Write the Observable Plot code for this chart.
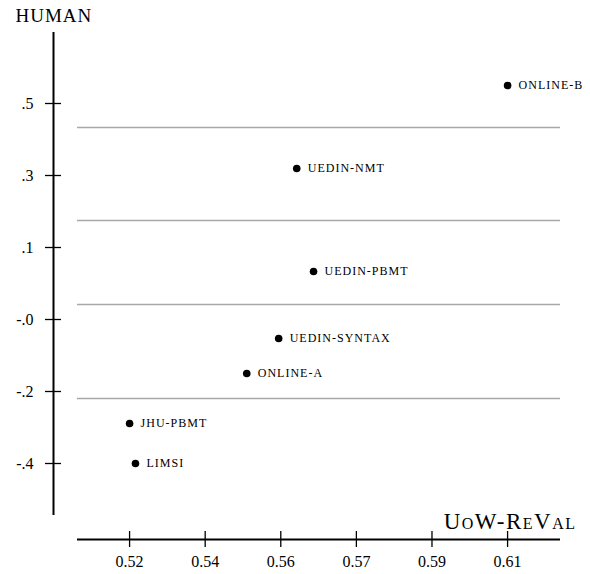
<!DOCTYPE html>
<html>
<head>
<meta charset="utf-8">
<script src="https://cdn.jsdelivr.net/npm/d3@7"></script>
<script src="https://cdn.jsdelivr.net/npm/@observablehq/plot@0.6"></script>
<style>
  html, body { margin: 0; padding: 0; background: white; }
  #chart svg { display: block; }
  #chart svg, #chart svg text, #chart svg g { font-family: "Liberation Serif", "Times New Roman", serif !important; }
</style>
</head>
<body>
<div id="chart"></div>
<script>
// Data
const systems = ["ONLINE-B", "UEDIN-NMT", "UEDIN-PBMT", "UEDIN-SYNTAX", "ONLINE-A", "JHU-PBMT", "LIMSI"];
const reval   = [0.61, 0.5598, 0.5638, 0.5555, 0.5479, 0.52, 0.5214];
const human   = [0.545, 0.3375, 0.08, -0.0875, -0.175, -0.30, -0.40];
const clusterBoundaries = [0.44, 0.2075, -0.0025, -0.2375];
const xTicks = [0.52, 0.538, 0.556, 0.574, 0.592, 0.61];
const yTicks = [0.5, 0.32, 0.14, -0.04, -0.22, -0.4];
const xDomain = [0.5076, 0.6226];
const yDomain = [-0.53, 0.6775];
const xTitle = "UoW-ReVal";
const yTitle = "HUMAN";

const data = systems.map((s, i) => ({system: s, reval: reval[i], human: human[i]}));

const fmtY = d => (d < 0 ? "-" : "") + Math.abs(d).toFixed(1).replace(/^0/, "");
const fmtX = d => d.toFixed(2);

const chart = Plot.plot({
  width: 590,
  height: 574,
  marginLeft: 77,
  marginRight: 30,
  marginTop: 32,
  marginBottom: 59,
  style: {fontFamily: "Liberation Serif", background: "white", color: "black", fontSize: "16px"},
  x: {domain: xDomain, label: null},
  y: {domain: yDomain, label: null},
  marks: [
    Plot.ruleY(clusterBoundaries, {stroke: "#a8a8a8", strokeWidth: 1.5}),
    Plot.ruleX([xDomain[0]], {dx: -24, stroke: "black", strokeWidth: 2}),
    Plot.ruleY([yDomain[0]], {dy: 24, stroke: "black", strokeWidth: 2}),
    Plot.axisY(yTicks, {tickFormat: fmtY, tickSize: 16, dx: -16, tickPadding: 12, fontSize: 16, strokeWidth: 1.3, label: null}),
    Plot.axisX(xTicks, {tickFormat: fmtX, tickSize: 16, dy: 16, tickPadding: 8, fontSize: 16, strokeWidth: 1.3, label: null}),
    Plot.dot(data, {x: "reval", y: "human", r: 3.8, fill: "black", stroke: null}),
    Plot.text(data, {x: "reval", y: "human", text: "system", dx: 11, textAnchor: "start", fontSize: 12, fill: "black"}),
    Plot.text([yTitle], {frameAnchor: "top-left", dx: -62, dy: -24, textAnchor: "start", lineAnchor: "top", fontSize: 19, fill: "black"}),
    Plot.text([xTitle], {frameAnchor: "bottom-right", dx: 16, dy: -3, textAnchor: "end", lineAnchor: "top", fontSize: 23, fontVariant: "small-caps", fill: "black"})
  ]
});

d3.select(chart).selectAll("text").each(function() {
  const t = this.textContent;
  if (systems.includes(t)) this.style.letterSpacing = "1px";
  if (t === yTitle) this.style.letterSpacing = "1px";
  if (t === xTitle) this.style.letterSpacing = "1.5px";
});

document.getElementById("chart").appendChild(chart);
</script>
</body>
</html>
